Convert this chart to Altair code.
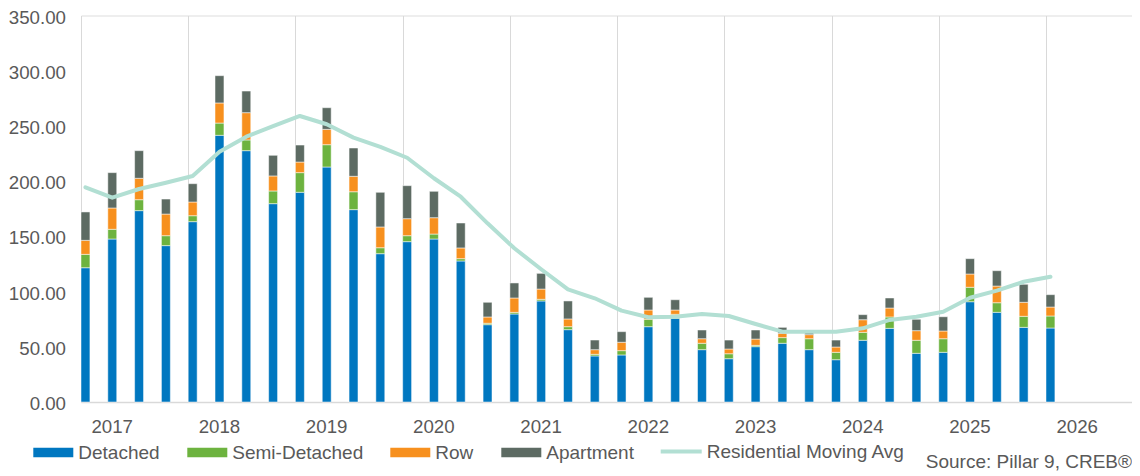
import altair as alt
import pandas as pd

# Quarterly periods (bar i sits at month offset 3*i from Jan 2017)
periods = [f"{2017 + (3 * i) // 12}-{(3 * i) % 12 + 1:02d}" for i in range(37)]

detached = [121.6, 147.6, 173.3, 141.6, 163.3, 241.5, 227.6, 179.6, 189.9, 212.8, 174.2, 134.3,
            145.2, 147.6, 127.7, 70.0, 79.7, 91.5, 65.5, 41.7, 42.6, 68.2, 75.8, 47.4,
            39.2, 50.1, 53.2, 47.4, 38.3, 55.9, 66.7, 44.1, 45.0, 90.8, 81.2, 67.6, 67.0]
semi = [12.1, 8.8, 9.9, 9.0, 5.4, 11.1, 9.7, 11.5, 17.8, 20.2, 16.2, 5.4,
        5.4, 4.5, 2.1, 1.3, 1.5, 1.5, 2.7, 1.5, 3.9, 6.7, 3.6, 5.8,
        4.5, 1.2, 5.1, 9.9, 6.7, 7.2, 10.3, 11.8, 12.3, 13.1, 8.7, 10.0, 10.9]
row = [12.7, 19.3, 19.4, 19.6, 12.4, 18.2, 24.7, 13.6, 9.6, 13.9, 14.0, 18.8,
       15.4, 14.8, 9.7, 5.7, 13.0, 9.3, 7.0, 4.2, 7.6, 8.4, 3.9, 4.1,
       4.3, 5.7, 3.9, 3.7, 4.8, 11.4, 8.1, 8.7, 7.0, 12.0, 15.1, 12.7, 8.1]
apartment = [25.7, 32.0, 25.0, 13.6, 16.6, 24.7, 19.6, 18.7, 15.4, 19.6, 25.6, 31.4,
             29.9, 23.9, 22.6, 13.3, 13.6, 14.2, 16.3, 8.7, 9.6, 11.5, 9.3, 7.9,
             8.1, 8.2, 5.4, 2.4, 6.3, 4.6, 9.1, 10.3, 12.9, 13.9, 13.9, 16.3, 11.2]
moving_avg = [194.4, 185.0, 192.9, 198.6, 204.7, 226.7, 240.3, 249.9, 259.0, 251.5, 239.4, 231.0,
              221.2, 202.6, 185.9, 161.8, 139.2, 120.2, 102.0, 93.9, 82.7, 76.7, 77.2, 79.7,
              77.9, 70.6, 63.7, 63.7, 63.7, 66.7, 74.3, 77.2, 81.8, 94.4, 100.8, 108.9, 113.5]

bar_names = ["Detached", "Semi-Detached", "Row", "Apartment"]
bar_colors = ["#0077C0", "#6DB33F", "#F7901E", "#5D6B63"]
line_name = "Residential Moving Avg"
line_color = "#B2DFD3"
year_ticks = [2017, 2018, 2019, 2020, 2021, 2022, 2023, 2024, 2025, 2026]
y_ticks = [0, 50, 100, 150, 200, 250, 300, 350]
source_text = "Source: Pillar 9, CREB®"

FONT = "Liberation Sans"
TXT = "#595959"

rows = []
for i, p in enumerate(periods):
    base = 0.0
    for k, (name, vals) in enumerate(zip(bar_names, [detached, semi, row, apartment])):
        v = vals[i]
        rows.append({"period": p, "m": 3 * i, "m2": 3 * i + 1, "type": name, "order": k,
                     "y0": base, "y1": base + v, "value": v})
        base += v
bars_df = pd.DataFrame(rows)
line_df = pd.DataFrame({"period": periods, "m": [3 * i + 0.5 for i in range(len(periods))],
                        "avg": moving_avg, "series": line_name})

W, H = 1051, 386.5
xscale = alt.Scale(domain=[0, W / 8.935], nice=False, zero=False)
yscale = alt.Scale(domain=[0, 350], nice=False)

rect_path = "M-1,-0.24L1,-0.24L1,0.24L-1,0.24Z"

bars = alt.Chart(bars_df).mark_bar(stroke="#FFFFFF", strokeWidth=0.5).encode(
    x=alt.X("m:Q", scale=xscale, axis=alt.Axis(
        values=[12 * (y - 2017) for y in year_ticks],
        labelExpr="'' + (2017 + round(datum.value / 12))",
        grid=True, gridColor="#D9D9D9", gridWidth=1,
        domain=True, domainColor="#D9D9D9", domainWidth=1.5,
        ticks=False, tickSize=0, labelOffset=30.7, labelPadding=15.5,
        labelFontSize=18.7, labelFont=FONT, labelColor=TXT,
        labelOverlap=False, labelFlush=False, title=None)),
    x2="m2:Q",
    y=alt.Y("y0:Q", scale=yscale, axis=alt.Axis(
        values=y_ticks, format=".2f", grid=False, domain=False, ticks=False, tickSize=0,
        labelPadding=15.5, labelOffset=1.5, labelFontSize=18.7, labelFont=FONT,
        labelColor=TXT, title=None)),
    y2="y1:Q",
    color=alt.Color("type:N", scale=alt.Scale(domain=bar_names, range=bar_colors),
                    legend=alt.Legend(
        orient="none", legendX=-47.7, legendY=417, direction="horizontal", title=None,
        symbolType=rect_path, symbolSize=1600, symbolStrokeWidth=0, symbolOpacity=1,
        labelFontSize=19, labelFont=FONT, labelColor=TXT, labelOffset=5, labelLimit=400,
        columnPadding=27, padding=0)),
    order=alt.Order("order:Q"),
    tooltip=["period:N", "type:N", "value:Q"],
)

line = alt.Chart(line_df).mark_line(strokeWidth=4, strokeCap="round", strokeJoin="round").encode(
    x=alt.X("m:Q", scale=xscale),
    y=alt.Y("avg:Q", scale=yscale),
    stroke=alt.Stroke("series:N", scale=alt.Scale(domain=[line_name], range=[line_color]),
                      legend=alt.Legend(
        orient="none", legendX=577.7, legendY=413.5, title=None,
        symbolType="stroke", symbolSize=1681, symbolStrokeWidth=4, symbolOpacity=1,
        labelFontSize=19, labelFont=FONT, labelColor=TXT, labelOffset=3, labelLimit=400,
        padding=0)),
)

source = alt.Chart(pd.DataFrame({"t": [source_text]})).mark_text(
    align="right", baseline="middle", fontSize=19, font=FONT, color=TXT
).encode(x=alt.value(W), y=alt.value(446.5), text="t:N")

chart = alt.layer(bars, line, source).properties(
    width=W, height=H,
    autosize=alt.AutoSizeParams(type="none"),
    padding={"left": 73, "top": 7.5, "right": 0, "bottom": 72},
).configure_view(stroke=None).configure(background="#FFFFFF")

chart.save("out.html", embed_options={"renderer": "svg", "actions": False})
